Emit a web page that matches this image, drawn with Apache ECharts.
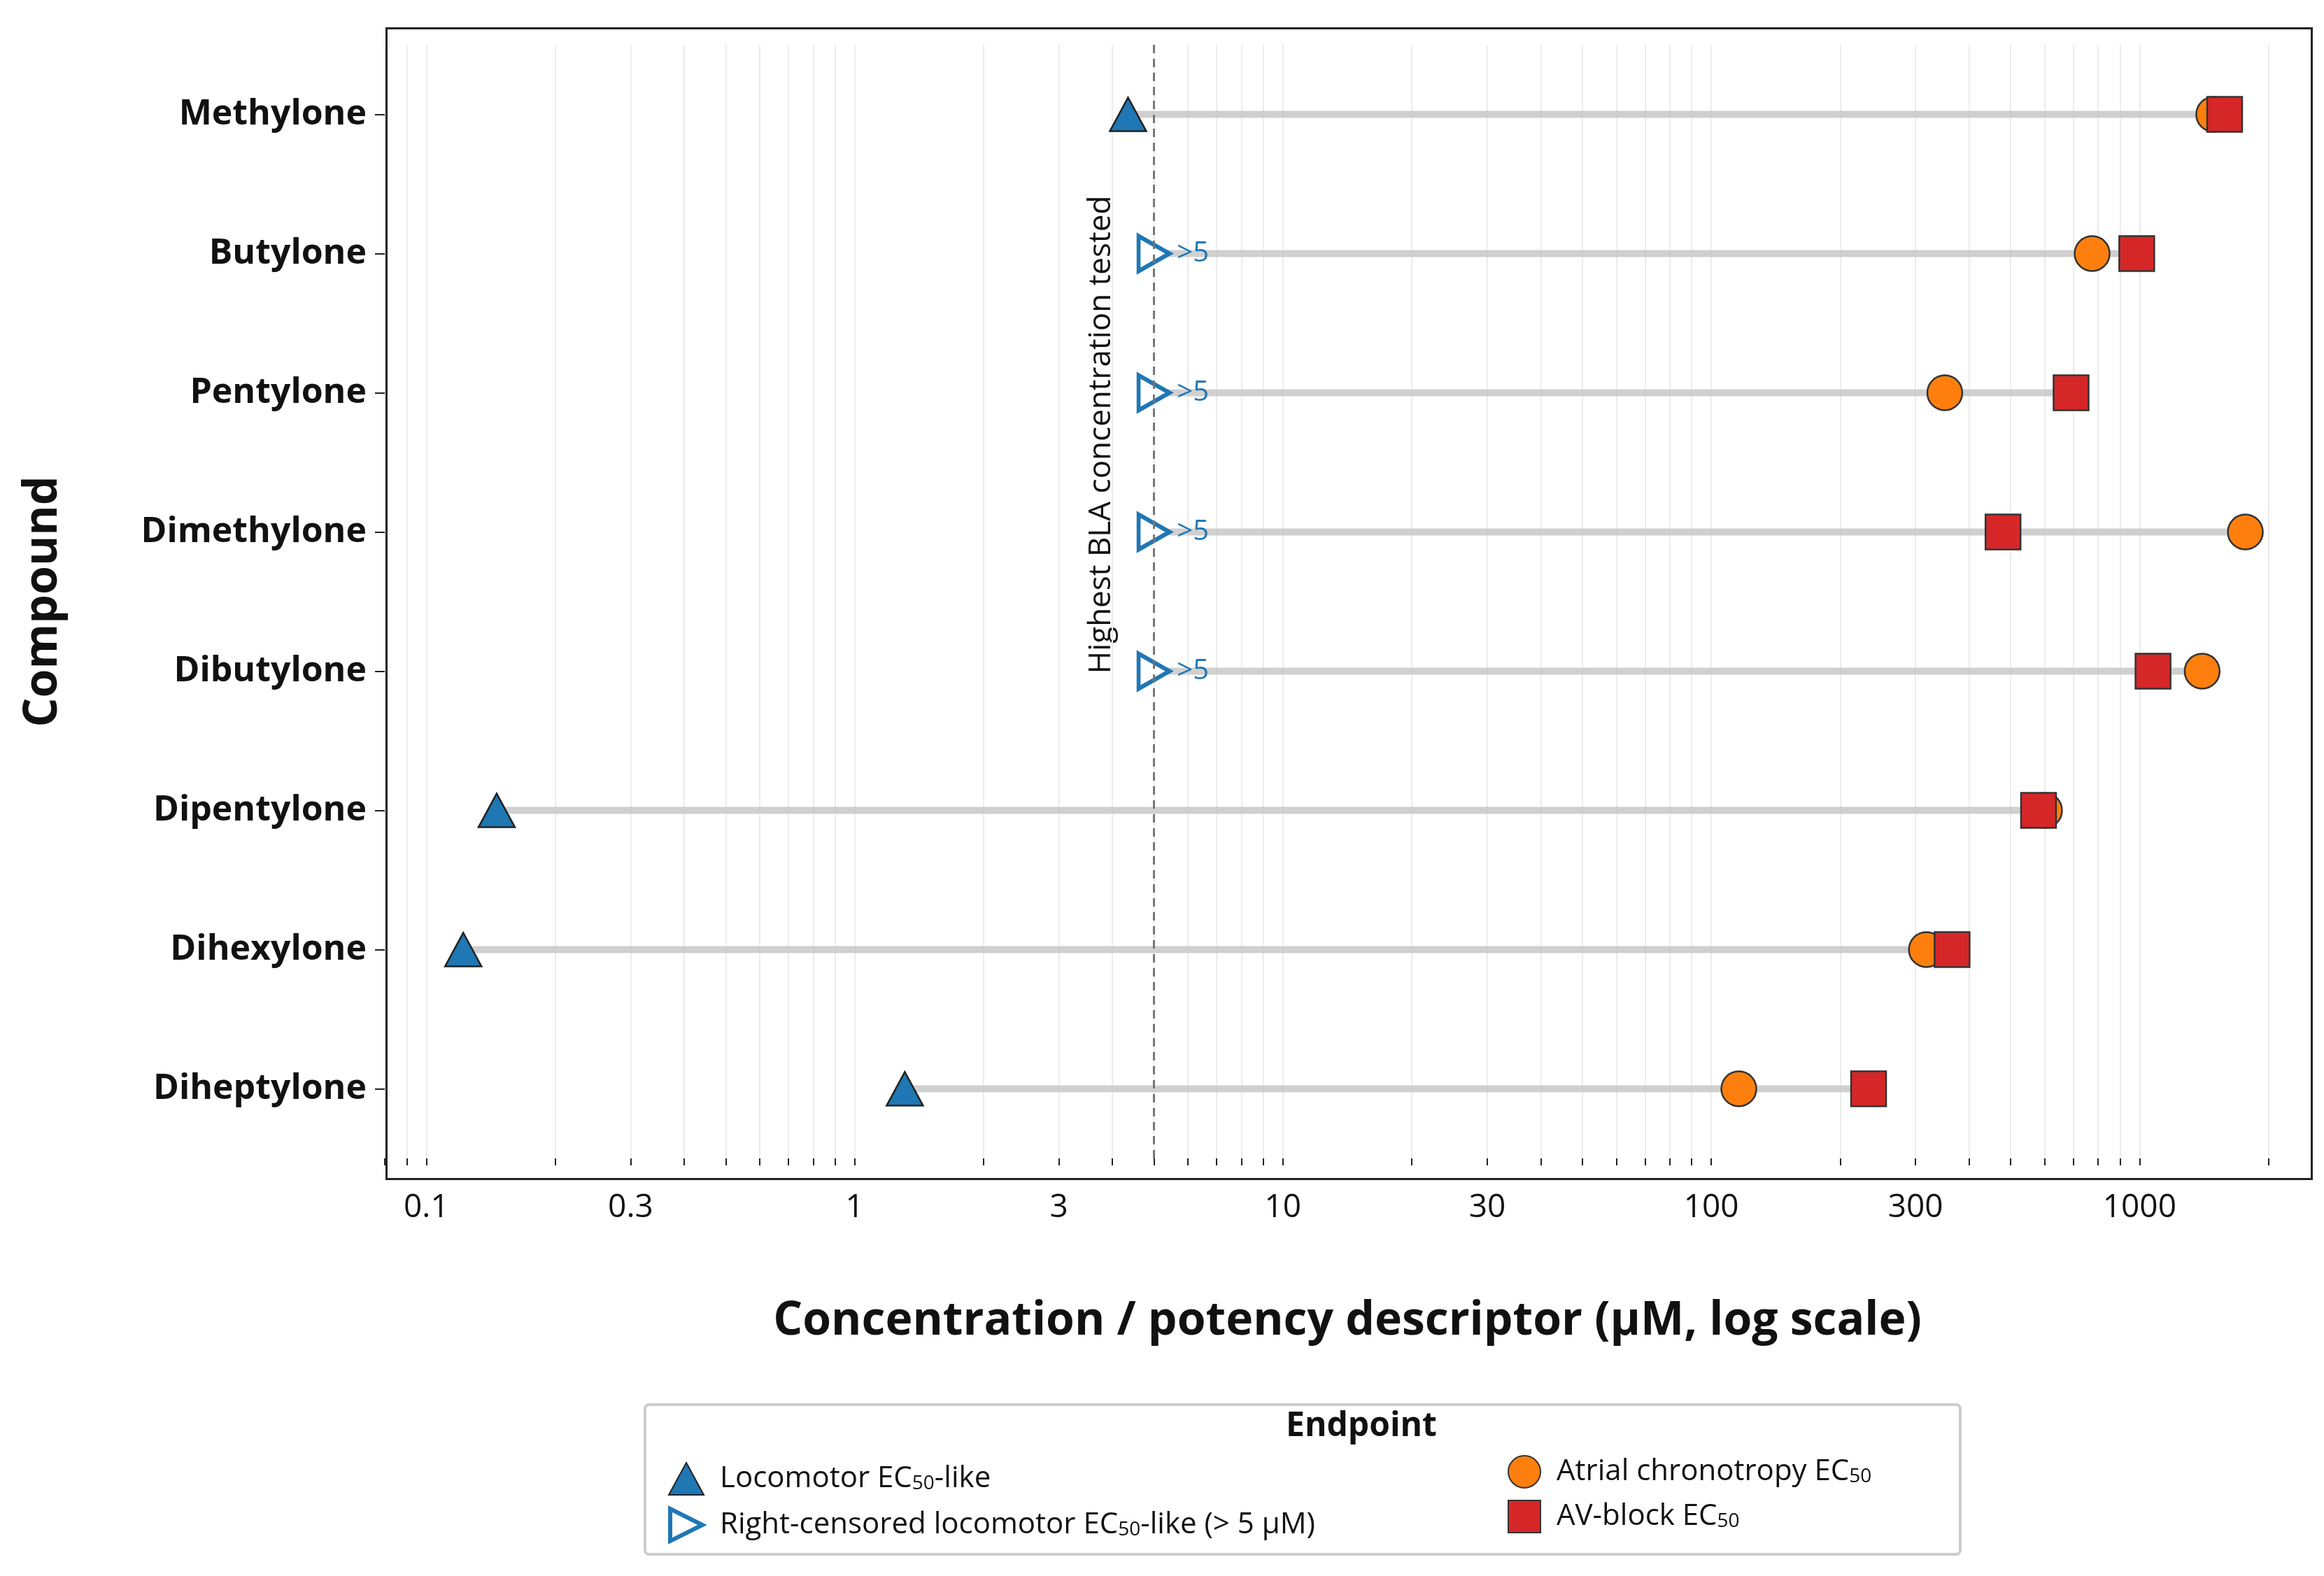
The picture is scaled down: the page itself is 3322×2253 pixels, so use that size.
<!DOCTYPE html>
<html>
<head>
<meta charset="utf-8">
<script src="https://cdn.jsdelivr.net/npm/echarts@6.0.0/dist/echarts.min.js"></script>
<title>Endpoint dumbbell</title>
<style>
  html, body, #main { width: 100%; height: 100%; margin: 0; background: #fff; }
</style>
</head>
<body>
<div id="main"></div>
<script>
// data (µM)
var compounds = ['Methylone', 'Butylone', 'Pentylone', 'Dimethylone', 'Dibutylone', 'Dipentylone', 'Dihexylone', 'Diheptylone'];
var locomotor = [4.35, null, null, null, null, 0.146, 0.122, 1.31];
var censoredAt = [null, 5, 5, 5, 5, null, null, null];
var atrial = [1490, 775, 351, 1766, 1400, 600, 318, 116];
var avBlock = [1580, 985, 692, 480, 1075, 581, 365, 233];
var blaMax = 5;
var tickLabels = [0.1, 0.3, 1, 3, 10, 30, 100, 300, 1000];

// minor grid positions 1..9 x 10^k
var minorTicks = [];
[0.01, 0.1, 1, 10, 100, 1000].forEach(function (p) {
  for (var m = 1; m <= 9; m++) {
    var v = +(m * p).toPrecision(3);
    if (v >= 0.08 && v <= 2500) minorTicks.push(v);
  }
});

var rangeData = compounds.map(function (c, i) {
  var lo = locomotor[i] != null ? locomotor[i] : censoredAt[i];
  var hi = Math.max(atrial[i], avBlock[i]);
  return [lo, hi, i];
});

function pairs(arr) {
  var out = [];
  arr.forEach(function (v, i) { if (v != null) out.push([v, compounds[i]]); });
  return out;
}

var myChart = echarts.init(document.getElementById('main'));
var font = 'Open Sans';
var sub = { fontSize: 28, fontFamily: font, color: '#111', verticalAlign: 'bottom', lineHeight: 34 };
var legText = { fontSize: 42, color: '#111', fontFamily: font, padding: [0, 0, 0, 18], rich: { s: sub } };

var option = {
  backgroundColor: '#fff',
  textStyle: { fontFamily: font },
  grid: { left: 550, right: 20, top: 64, bottom: 597, show: false },
  xAxis: {
    type: 'log', logBase: 10, min: 0.08, max: 2500,
    name: 'Concentration / potency descriptor (\u03bcM, log scale)',
    nameLocation: 'middle', nameGap: 200,
    nameTextStyle: { fontSize: 66, fontWeight: 'bold', color: '#111', fontFamily: font },
    axisLine: { show: false },
    axisTick: { show: true, customValues: minorTicks, length: 10, lineStyle: { color: '#222', width: 2 } },
    axisLabel: { customValues: tickLabels, fontSize: 46, color: '#111', margin: 48,
      formatter: function (v) { return String(+v.toPrecision(3)); } },
    splitLine: { show: true, lineStyle: { color: '#ececec', width: 2 } }
  },
  yAxis: {
    type: 'category', data: compounds, inverse: true,
    name: 'Compound', nameLocation: 'middle', nameGap: 455, nameRotate: 90,
    nameTextStyle: { fontSize: 66, fontWeight: 'bold', color: '#111', fontFamily: font },
    axisLine: { show: false },
    axisTick: { show: true, alignWithLabel: true, length: 14, lineStyle: { color: '#222', width: 2 } },
    axisLabel: { fontSize: 50, fontWeight: 'bold', color: '#111', margin: 26 },
    splitLine: { show: false },
    boundaryGap: true
  },
  legend: [{
    data: ['Locomotor', { name: 'Censored', itemStyle: { borderWidth: 6 } }],
    orient: 'vertical', left: 950, top: 2085, itemGap: 16,
    itemWidth: 50, itemHeight: 46, textStyle: legText,
    formatter: function (n) {
      return n === 'Locomotor' ? 'Locomotor EC{s|50}-like' : 'Right-censored locomotor EC{s|50}-like (> 5 \u03bcM)';
    }
  }, {
    data: ['Atrial', 'AVblock'], orient: 'vertical', left: 2150, top: 2075, itemGap: 16,
    itemWidth: 46, itemHeight: 46, textStyle: legText,
    formatter: function (n) {
      return n === 'Atrial' ? 'Atrial chronotropy EC{s|50}' : 'AV-block EC{s|50}';
    }
  }],
  graphic: [{
    type: 'rect', left: 920, top: 2006, z: -1,
    shape: { width: 1880, height: 214, r: 6 },
    style: { fill: '#fff', stroke: '#ccc', lineWidth: 4 }
  }, {
    type: 'text', left: 1838, top: 2015,
    style: { text: 'Endpoint', fontSize: 48, fontWeight: 'bold', fontFamily: font, fill: '#111' }
  }, {
    type: 'rect', left: 550, top: 38, z: 10, silent: true,
    shape: { width: 2752, height: 1645 },
    style: { fill: 'none', stroke: '#222', lineWidth: 3 }
  }],
  series: [{
    name: 'range', type: 'custom', z: 1, silent: true,
    data: rangeData,
    renderItem: function (params, api) {
      var a = api.coord([api.value(0), compounds[api.value(2)]]);
      var b = api.coord([api.value(1), compounds[api.value(2)]]);
      return { type: 'line', shape: { x1: a[0], y1: a[1], x2: b[0], y2: b[1] },
        style: { stroke: '#c8c8c8', lineWidth: 10, opacity: 0.85 } };
    },
    encode: { x: [0, 1], y: 2 }
  }, {
    name: 'Atrial', type: 'scatter', z: 3, data: pairs(atrial),
    symbol: 'circle', symbolSize: 50,
    itemStyle: { color: '#ff7f0e', borderColor: '#333', borderWidth: 2.5, opacity: 1 }
  }, {
    name: 'AVblock', type: 'scatter', z: 4, data: pairs(avBlock),
    symbol: 'rect', symbolSize: 50,
    itemStyle: { color: '#d62728', borderColor: '#333', borderWidth: 2.5, opacity: 1 }
  }, {
    name: 'Locomotor', type: 'scatter', z: 4, data: pairs(locomotor),
    symbol: 'triangle', symbolSize: [52, 48],
    itemStyle: { color: '#1f77b4', borderColor: '#222', borderWidth: 2.5, opacity: 1 }
  }, {
    name: 'Censored', type: 'scatter', z: 4, data: pairs(censoredAt),
    symbol: 'path://M0,0 L10,5 L0,10 Z', symbolSize: [44, 50],
    itemStyle: { color: '#fff', borderColor: '#1f77b4', borderWidth: 6, opacity: 1 },
    label: { show: true, position: 'right', distance: 8, formatter: '>5', color: '#1f77b4', fontSize: 40 },
    markLine: {
      silent: true, symbol: 'none',
      lineStyle: { color: '#777', type: [12, 8], width: 3 },
      label: { show: false },
      data: [{ xAxis: blaMax }]
    }
  }]
};

myChart.setOption(option);

// rotated label next to the BLA line, placed from the axis scale
var p = myChart.convertToPixel({ xAxisIndex: 0, yAxisIndex: 0 }, [blaMax, 'Pentylone']);
myChart.setOption({
  graphic: [{}, {}, {}, {
    type: 'text', x: p[0] - 75, y: p[1] + 60, rotation: Math.PI / 2,
    style: { text: 'Highest BLA concentration tested', fontSize: 44, fontFamily: font, fill: '#111',
      align: 'center', verticalAlign: 'middle' }
  }]
});

window.onresize = function () { myChart.resize(); };
</script>
</body>
</html>
